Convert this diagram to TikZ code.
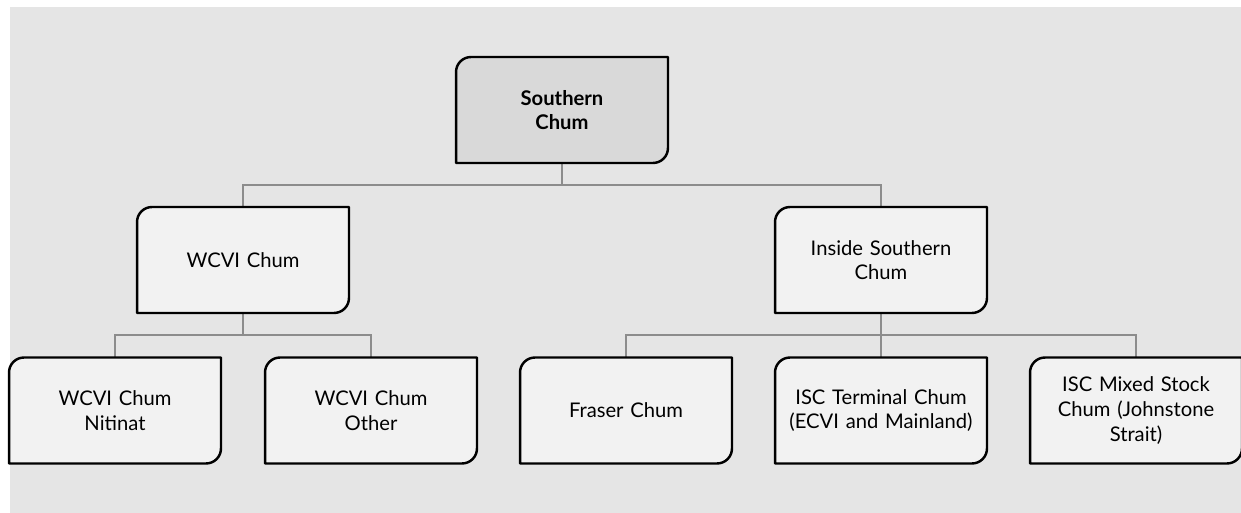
\documentclass[tikz,border=0pt]{standalone}
\usepackage{fontspec}
\setmainfont{Lato}
\usepackage{xcolor}
\usepackage{tikz}
\usetikzlibrary{backgrounds}

\definecolor{panelgray}{HTML}{E5E5E5}
\definecolor{boxfill}{HTML}{F2F2F2}
\definecolor{rootfill}{HTML}{D9D9D9}
\definecolor{linkgray}{HTML}{8C8C8C}

\newcommand{\crad}{0.3cm}
% box with rounded top left and bottom right corners
\newcommand{\chumoutline}[2]{%
	\filldraw[boxline, fill=#2] (#1.south west) -- ([yshift=-\crad]#1.north west) arc[start angle=180, end angle=90, radius=\crad] -- (#1.north east) -- ([yshift=\crad]#1.south east) arc[start angle=0, end angle=-90, radius=\crad] -- cycle;}

\tikzset{
	chumbox/.style={minimum width=4.24cm, minimum height=2.12cm, inner sep=2pt, outer sep=0pt, align=center, text width=3.9cm, font=\fontsize{11.5}{14}\selectfont},
	boxline/.style={draw=black, line width=1.4pt, line join=round},
	link/.style={draw=linkgray, line width=1.1pt}
}

\begin{document}
\begin{tikzpicture}[x=0.02cm, y=-0.02cm]
				\useasboundingbox (0,0) rectangle (1241,513);
				\node[chumbox] (root) at (562,110) {\bfseries Southern\\\bfseries Chum};
				\node[chumbox] (wcvi) at (243,260) {WCVI Chum};
				\node[chumbox] (isc) at (881,260) {Inside Southern\\Chum};
				\node[chumbox] (nitinat) at (115,410.5) {WCVI Chum\\Nitinat};
				\node[chumbox] (other) at (371,410.5) {WCVI Chum\\Other};
				\node[chumbox] (fraser) at (626,410.5) {Fraser Chum};
				\node[chumbox] (terminal) at (881,410.5) {ISC Terminal Chum\\(ECVI and Mainland)};
				\node[chumbox] (mixed) at (1136,410.5) {ISC Mixed Stock\\Chum (Johnstone\\Strait)};
				\coordinate (bustop) at (562,185);
				\coordinate (busleft) at (243,335);
				\coordinate (busright) at (881,335);
				\begin{scope}[on background layer]
					\fill[panelgray] (10,7) rectangle (1241,513);
					% connectors
					\draw[link] (root.south) -- (bustop);
					\draw[link] (wcvi.north) |- (bustop);
					\draw[link] (isc.north) |- (bustop);
					\draw[link] (wcvi.south) -- (busleft);
					\draw[link] (nitinat.north) |- (busleft);
					\draw[link] (other.north) |- (busleft);
					\draw[link] (isc.south) -- (busright);
					\draw[link] (fraser.north) |- (busright);
					\draw[link] (terminal.north) -- (busright);
					\draw[link] (mixed.north) |- (busright);
					% boxes
					\chumoutline{root}{rootfill}
					\foreach \n in {wcvi, isc, nitinat, other, fraser, terminal, mixed}
						\chumoutline{\n}{boxfill};
				\end{scope}
			\end{tikzpicture}
\end{document}
